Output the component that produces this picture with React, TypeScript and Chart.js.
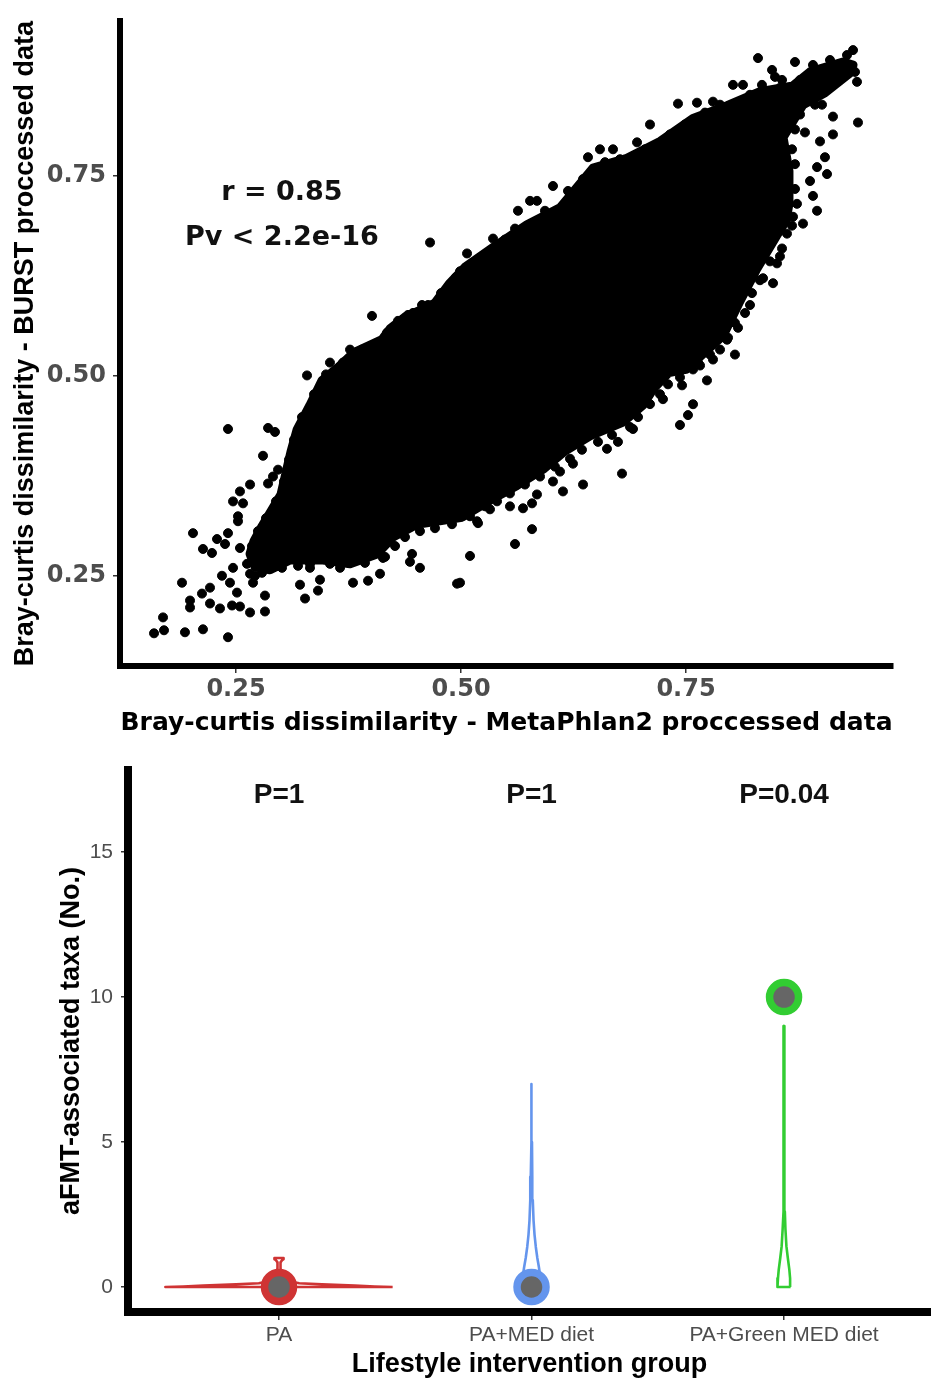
import React, { useEffect, useRef } from "react";
import { Chart, registerables } from "chart.js";

Chart.register(...registerables);

// ---------------- Top panel: Bray-Curtis scatter ----------------
const scatterXTicks = [0.25, 0.5, 0.75];
const scatterYTicks = [0.25, 0.5, 0.75];

// outline of the saturated (fully overplotted) core of the point cloud
const coreX = [0.2711, 0.2656, 0.27, 0.2778, 0.2889, 0.3, 0.3067, 0.3111, 0.3178, 0.3322, 0.3456, 0.3633, 0.3811, 0.4122, 0.4211, 0.4378, 0.4556, 0.4711, 0.4867, 0.5044, 0.5356, 0.5733, 0.61, 0.6467, 0.6844, 0.7211, 0.7578, 0.7956, 0.8322, 0.8689, 0.8878, 0.9244, 0.9356, 0.9322, 0.9044, 0.88, 0.8578, 0.8644, 0.8644, 0.8611, 0.85, 0.8278, 0.8089, 0.7911, 0.75, 0.7311, 0.7133, 0.7022, 0.68, 0.6433, 0.6144, 0.5922, 0.5622, 0.5322, 0.5011, 0.48, 0.4511, 0.4244, 0.4067, 0.3767, 0.3467, 0.31, 0.2878];
const coreY = [0.2612, 0.2773, 0.2934, 0.3096, 0.3306, 0.3517, 0.384, 0.4051, 0.4324, 0.4634, 0.4944, 0.5105, 0.5291, 0.5453, 0.5589, 0.5738, 0.5825, 0.5912, 0.6148, 0.6359, 0.6607, 0.6892, 0.7103, 0.7599, 0.7723, 0.7934, 0.822, 0.8381, 0.8555, 0.8629, 0.8803, 0.8927, 0.889, 0.879, 0.8542, 0.8393, 0.7984, 0.7562, 0.7153, 0.6942, 0.6743, 0.6321, 0.5912, 0.5502, 0.5081, 0.5043, 0.4833, 0.4634, 0.4423, 0.4249, 0.4051, 0.384, 0.3629, 0.3443, 0.3232, 0.3195, 0.3145, 0.2984, 0.2773, 0.2649, 0.2698, 0.2698, 0.2574];

// individually visible points scattered around the cloud
const dotX = [0.4656, 0.4011, 0.3767, 0.3289, 0.5067, 0.5356, 0.5633, 0.5844, 0.6022, 0.6189, 0.6411, 0.6544, 0.6956, 0.71, 0.6689, 0.7411, 0.7622, 0.78, 0.8022, 0.83, 0.8711, 0.8911, 0.91, 0.9289, 0.9356, 0.94, 0.9411, 0.9211, 0.8989, 0.8489, 0.9133, 0.9133, 0.9044, 0.9067, 0.8878, 0.8911, 0.8956, 0.88, 0.8622, 0.8511, 0.8467, 0.8211, 0.8078, 0.8044, 0.78, 0.7578, 0.8822, 0.8933, 0.7733, 0.7456, 0.7578, 0.7522, 0.7433, 0.7244, 0.6744, 0.6622, 0.6789, 0.6356, 0.6133, 0.61, 0.5844, 0.5789, 0.5789, 0.56, 0.5544, 0.5322, 0.5189, 0.51, 0.4989, 0.2411, 0.2856, 0.2933, 0.28, 0.2967, 0.2911, 0.2856, 0.2544, 0.2656, 0.2467, 0.2578, 0.2522, 0.2522, 0.2022, 0.2411, 0.2289, 0.2378, 0.2133, 0.2233, 0.2544, 0.2467, 0.2622, 0.19, 0.2344, 0.2433, 0.2211, 0.2122, 0.2511, 0.1989, 0.1989, 0.2211, 0.2322, 0.2456, 0.2544, 0.2656, 0.2689, 0.2656, 0.2822, 0.2822, 0.1689, 0.17, 0.1589, 0.1933, 0.2133, 0.2411, 0.3211, 0.3267, 0.3411, 0.3433, 0.3322, 0.38, 0.3967, 0.41, 0.4133, 0.4456, 0.4433, 0.4544, 0.4956, 0.5178, 0.4178, 0.4411, 0.4567, 0.4844, 0.4989, 0.3544, 0.5767, 0.8133, 0.8344, 0.8456, 0.8567, 0.9378, 0.9011, 0.8989, 0.8956, 0.8689, 0.8544, 0.8322, 0.7956, 0.7878, 0.7656, 0.6911, 0.6244, 0.6022, 0.5689];
const dotY = [0.6669, 0.5751, 0.5329, 0.5006, 0.6532, 0.6718, 0.7066, 0.719, 0.7376, 0.7314, 0.7736, 0.7835, 0.7922, 0.8145, 0.7835, 0.8406, 0.8418, 0.8431, 0.8641, 0.8976, 0.8927, 0.889, 0.8952, 0.9014, 0.9076, 0.8679, 0.817, 0.8803, 0.8741, 0.8741, 0.8244, 0.8021, 0.7736, 0.7525, 0.7438, 0.7252, 0.7066, 0.6905, 0.678, 0.6408, 0.616, 0.5887, 0.5602, 0.5267, 0.5205, 0.5081, 0.8046, 0.8393, 0.4944, 0.4882, 0.4646, 0.451, 0.4386, 0.4709, 0.4175, 0.4088, 0.3778, 0.3641, 0.3555, 0.3803, 0.3517, 0.3406, 0.3083, 0.2897, 0.3368, 0.3331, 0.3158, 0.2748, 0.2413, 0.4336, 0.4349, 0.4299, 0.4001, 0.3827, 0.3741, 0.3654, 0.3555, 0.3641, 0.343, 0.3406, 0.3244, 0.3182, 0.3033, 0.3033, 0.2959, 0.2897, 0.2835, 0.2785, 0.2847, 0.2599, 0.2649, 0.2413, 0.25, 0.2413, 0.2351, 0.2277, 0.2289, 0.219, 0.2103, 0.2153, 0.2091, 0.2128, 0.2115, 0.2525, 0.2413, 0.2041, 0.2053, 0.2252, 0.1979, 0.1818, 0.178, 0.1793, 0.183, 0.1731, 0.2388, 0.2215, 0.2314, 0.245, 0.2599, 0.2413, 0.2438, 0.2525, 0.2723, 0.2773, 0.2674, 0.2599, 0.2401, 0.3182, 0.554, 0.5763, 0.5887, 0.6036, 0.6309, 0.5167, 0.719, 0.8641, 0.8641, 0.8828, 0.8703, 0.8803, 0.8393, 0.7934, 0.7612, 0.6991, 0.6495, 0.6197, 0.5453, 0.5329, 0.513, 0.4336, 0.3902, 0.3679, 0.3344];

// points sitting on the rim of the dense core (give it its bumpy edge)
const rimX = [0.2678, 0.2744, 0.2833, 0.2944, 0.3033, 0.3089, 0.3144, 0.3233, 0.3367, 0.35, 0.3689, 0.39, 0.4078, 0.43, 0.4467, 0.4633, 0.4778, 0.4944, 0.5189, 0.5489, 0.56, 0.5933, 0.6267, 0.6356, 0.66, 0.6767, 0.7044, 0.7322, 0.7489, 0.7711, 0.7878, 0.8211, 0.8544, 0.8767, 0.9022, 0.8767, 0.8711, 0.8678, 0.8711, 0.8711, 0.8733, 0.8678, 0.8567, 0.8433, 0.8356, 0.8233, 0.8156, 0.8044, 0.7967, 0.7767, 0.7633, 0.7433, 0.73, 0.7211, 0.71, 0.6967, 0.6878, 0.6678, 0.6522, 0.6344, 0.6211, 0.6044, 0.5878, 0.5711, 0.5544, 0.54, 0.5267, 0.51, 0.49, 0.4711, 0.4544, 0.4378, 0.4267, 0.4156, 0.3933, 0.3656, 0.3544, 0.3322, 0.3189, 0.3011, 0.2789, 0.2711];
const rimY = [0.2872, 0.3058, 0.322, 0.3431, 0.3679, 0.3952, 0.42, 0.4485, 0.477, 0.5019, 0.5167, 0.5329, 0.5416, 0.5689, 0.5788, 0.5887, 0.6036, 0.6235, 0.6433, 0.6706, 0.6843, 0.7066, 0.7277, 0.7463, 0.7674, 0.7711, 0.7835, 0.8021, 0.8145, 0.8294, 0.8393, 0.8517, 0.8604, 0.8703, 0.8828, 0.827, 0.8083, 0.7835, 0.7649, 0.7339, 0.7153, 0.688, 0.6594, 0.6433, 0.6222, 0.6036, 0.5787, 0.5664, 0.5478, 0.5267, 0.5168, 0.4982, 0.4895, 0.4771, 0.4647, 0.4485, 0.4361, 0.4262, 0.4175, 0.4076, 0.3964, 0.3865, 0.3741, 0.3641, 0.353, 0.3431, 0.3369, 0.3244, 0.3145, 0.3095, 0.3058, 0.2984, 0.2872, 0.2736, 0.2661, 0.2599, 0.2649, 0.2649, 0.2624, 0.2599, 0.2537, 0.25];

const annotationLines = ["r = 0.85", "Pv < 2.2e-16"];
const annotationX = 0.301;
const annotationY = [0.729, 0.672];

// ---------------- Bottom panel: violins ----------------
const groups = ["PA", "PA+MED diet", "PA+Green MED diet"];
const groupColors = ["#CF3434", "#6495ED", "#32CD32"];
const groupMedians = [0, 0, 10];
const pLabels = ["P=1", "P=1", "P=0.04"];
const pLabelY = 16.95;
const violinYTicks = [0, 5, 10, 15];

const violinY_PA = [0, 0.02, 0.05, 0.09, 0.13, 0.2, 0.3, 0.45, 0.65, 0.85, 0.92, 0.96, 1.0];
const violinW_PA = [0.45, 0.38, 0.3, 0.17, 0.08, 0.04, 0.02, 0.01, 0.006, 0.006, 0.012, 0.018, 0.018];
const violinY_MED = [0, 0.35, 0.7, 1.0, 1.38, 1.8, 2.3, 3.0, 3.8, 5.0, 6.0, 7.0];
const violinW_MED = [0.04, 0.035, 0.029, 0.023, 0.017, 0.012, 0.008, 0.005, 0.003, 0.0018, 0.0012, 0.0008];
const violinY_GREEN = [0, 0.3, 0.6, 1.0, 1.4, 2.0, 2.6, 3.5, 5.0, 7.0, 9.0];
const violinW_GREEN = [0.026, 0.024, 0.021, 0.015, 0.0095, 0.0055, 0.0032, 0.002, 0.0016, 0.0012, 0.0008];

const violinProfiles = [
  { y: violinY_PA, w: violinW_PA },
  { y: violinY_MED, w: violinW_MED },
  { y: violinY_GREEN, w: violinW_GREEN },
];

function buildViolin(center: number, ys: number[], ws: number[]) {
  const right = ys.map((y, i) => ({ x: center + ws[i], y }));
  const left = ys.map((y, i) => ({ x: center - ws[i], y })).reverse();
  return [...right, ...left, right[0]];
}

const DEJAVU = "'DejaVu Sans', sans-serif";
const ARIAL = "'Liberation Sans', Arial, sans-serif";

function makeTopConfig(): any {
  const corePts = coreX.map((x, i) => ({ x, y: coreY[i] }));
  corePts.push({ x: coreX[0], y: coreY[0] });
  const pts = [
    ...dotX.map((x, i) => ({ x, y: dotY[i] })),
    ...rimX.map((x, i) => ({ x, y: rimY[i] })),
  ];
  const annotationPlugin = {
    id: "topAnnotation",
    afterDatasetsDraw(chart: any) {
      const { ctx, scales } = chart;
      ctx.save();
      ctx.fillStyle = "#111";
      ctx.font = `bold 27px ${DEJAVU}`;
      ctx.textAlign = "center";
      ctx.textBaseline = "middle";
      annotationLines.forEach((t, i) => {
        ctx.fillText(t, scales.x.getPixelForValue(annotationX), scales.y.getPixelForValue(annotationY[i]));
      });
      ctx.restore();
    },
  };
  return {
    type: "scatter",
    data: {
      datasets: [
        {
          label: "points",
          data: pts,
          pointRadius: 4.5,
          pointBackgroundColor: "#000",
          pointBorderColor: "#000",
          pointBorderWidth: 1,
          showLine: false,
        },
        {
          label: "core",
          data: corePts,
          showLine: true,
          fill: "shape",
          backgroundColor: "#000",
          borderColor: "#000",
          borderWidth: 9,
          borderJoinStyle: "round",
          borderCapStyle: "round",
          pointRadius: 0,
          tension: 0,
        },
      ],
    },
    options: {
      animation: false,
      responsive: false,
      devicePixelRatio: 1,
      events: [],
      layout: { autoPadding: false, padding: { top: 16, right: 38, left: 0, bottom: 0 } },
      plugins: { legend: { display: false }, tooltip: { enabled: false } },
      scales: {
        x: {
          type: "linear",
          min: 0.1211,
          max: 0.98,
          afterBuildTicks: (s: any) => {
            s.ticks = scatterXTicks.map((v) => ({ value: v }));
          },
          afterFit: (s: any) => {
            s.height = 74;
          },
          border: { display: true, color: "#000", width: 6 },
          grid: { drawOnChartArea: false, drawTicks: true, tickLength: 7, color: "#333", lineWidth: 1.5 },
          ticks: {
            callback: (v: any) => Number(v).toFixed(2),
            color: "#4D4D4D",
            font: { family: DEJAVU, size: 24, weight: "bold" },
            padding: 2,
            maxRotation: 0,
            autoSkip: false,
          },
          title: {
            display: true,
            text: "Bray-curtis dissimilarity - MetaPhlan2 proccessed data",
            color: "#000",
            font: { family: DEJAVU, size: 25, weight: "bold" },
            padding: { top: 0, bottom: 2 },
          },
        },
        y: {
          type: "linear",
          min: 0.1371,
          max: 0.9435,
          afterBuildTicks: (s: any) => {
            s.ticks = scatterYTicks.map((v) => ({ value: v }));
          },
          afterFit: (s: any) => {
            s.width = 120;
          },
          border: { display: true, color: "#000", width: 6 },
          grid: { drawOnChartArea: false, drawTicks: true, tickLength: 7, color: "#333", lineWidth: 1.5 },
          ticks: {
            callback: (v: any) => Number(v).toFixed(2),
            color: "#4D4D4D",
            font: { family: DEJAVU, size: 24, weight: "bold" },
            padding: 7,
            autoSkip: false,
          },
          title: {
            display: true,
            text: "Bray-curtis dissimilarity - BURST proccessed data",
            color: "#000",
            font: { family: ARIAL, size: 27, weight: "bold" },
            padding: { top: 9, bottom: 0 },
          },
        },
      },
    },
    plugins: [annotationPlugin],
  };
}

function makeBottomConfig(): any {
  const pLabelPlugin = {
    id: "pLabels",
    afterDatasetsDraw(chart: any) {
      const { ctx, scales } = chart;
      ctx.save();
      ctx.fillStyle = "#111";
      ctx.font = `bold 28px ${ARIAL}`;
      ctx.textAlign = "center";
      ctx.textBaseline = "middle";
      pLabels.forEach((t, i) => {
        ctx.fillText(t, scales.x.getPixelForValue(i + 1), scales.y.getPixelForValue(pLabelY));
      });
      ctx.restore();
    },
  };
  const violinDatasets = violinProfiles.map((p, i) => ({
    label: groups[i],
    data: buildViolin(i + 1, p.y, p.w),
    showLine: true,
    fill: false,
    borderColor: groupColors[i],
    borderWidth: 2.6,
    borderJoinStyle: "round",
    pointRadius: 0,
    tension: 0,
  }));
  return {
    type: "scatter",
    data: {
      datasets: [
        {
          label: "median",
          data: groupMedians.map((m, i) => ({ x: i + 1, y: m })),
          pointRadius: 14.5,
          pointBorderWidth: 7.5,
          pointBackgroundColor: "#666666",
          pointBorderColor: groupColors,
          showLine: false,
        },
        ...violinDatasets,
      ],
    },
    options: {
      animation: false,
      responsive: false,
      devicePixelRatio: 1,
      events: [],
      layout: { autoPadding: false, padding: { top: 30, right: 0, left: 0, bottom: 0 } },
      plugins: { legend: { display: false }, tooltip: { enabled: false } },
      scales: {
        x: {
          type: "linear",
          min: 0.402,
          max: 3.582,
          afterBuildTicks: (s: any) => {
            s.ticks = groups.map((_, i) => ({ value: i + 1 }));
          },
          afterFit: (s: any) => {
            s.height = 69;
          },
          border: { display: true, color: "#000", width: 8 },
          grid: { drawOnChartArea: false, drawTicks: true, tickLength: 8, color: "#333", lineWidth: 1.5 },
          ticks: {
            callback: (v: any) => groups[Math.round(Number(v)) - 1],
            color: "#4D4D4D",
            font: { family: ARIAL, size: 21 },
            padding: 3,
            maxRotation: 0,
            autoSkip: false,
          },
          title: {
            display: true,
            text: "Lifestyle intervention group",
            color: "#000",
            font: { family: ARIAL, size: 27, weight: "bold" },
            padding: { top: 0, bottom: 0 },
          },
        },
        y: {
          type: "linear",
          min: -0.862,
          max: 17.83,
          afterBuildTicks: (s: any) => {
            s.ticks = violinYTicks.map((v) => ({ value: v }));
          },
          afterFit: (s: any) => {
            s.width = 128;
          },
          border: { display: true, color: "#000", width: 8 },
          grid: { drawOnChartArea: false, drawTicks: true, tickLength: 7, color: "#333", lineWidth: 1.5 },
          ticks: {
            callback: (v: any) => String(v),
            color: "#4D4D4D",
            font: { family: ARIAL, size: 21 },
            padding: 8,
            autoSkip: false,
          },
          title: {
            display: true,
            text: "aFMT-associated taxa (No.)",
            color: "#000",
            font: { family: ARIAL, size: 27, weight: "bold" },
            padding: { top: 55, bottom: 0 },
          },
        },
      },
    },
    plugins: [pLabelPlugin],
  };
}

export default function App() {
  const topRef = useRef<HTMLCanvasElement>(null);
  const bottomRef = useRef<HTMLCanvasElement>(null);

  useEffect(() => {
    const top = new Chart(topRef.current as HTMLCanvasElement, makeTopConfig());
    const bottom = new Chart(bottomRef.current as HTMLCanvasElement, makeBottomConfig());
    return () => {
      top.destroy();
      bottom.destroy();
    };
  }, []);

  return (
    <div style={{ position: "absolute", left: 0, top: 0, width: 931, height: 1381, background: "#fff" }}>
      <canvas ref={topRef} width={931} height={740} style={{ display: "block", width: 931, height: 740 }} />
      <canvas ref={bottomRef} width={931} height={641} style={{ display: "block", width: 931, height: 641 }} />
    </div>
  );
}
